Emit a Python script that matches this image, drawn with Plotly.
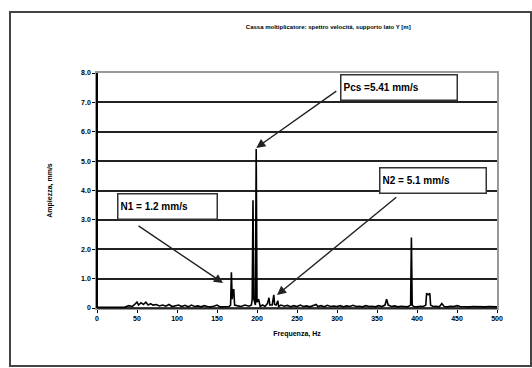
import plotly.graph_objects as go

# ---- data ----
freq_hz = [0, 20, 35, 40, 44, 47, 50, 52, 55, 58, 61, 64, 67, 70,
           74, 78, 82, 86, 90, 94, 98, 102, 106, 110, 114, 118, 122, 126, 130,
           134, 138, 142, 146, 150, 154, 158, 162, 165,
           167, 168, 169, 170, 171, 172, 175, 180, 185, 190, 193,
           194, 195, 196, 197, 198, 199, 200, 202, 204,
           207, 210, 213, 215, 216, 219, 221, 222, 224, 226, 227,
           230, 234, 238, 242, 246, 250, 254, 258, 262, 266, 270, 274, 276,
           280, 284, 288, 292, 296, 300, 304, 308, 312, 316, 320, 324, 328,
           332, 336, 340, 344, 348, 352, 356, 360, 362, 364, 368, 372, 376,
           380, 384, 388, 391, 392, 393, 394, 396, 400, 404, 408, 411, 412,
           414, 416, 417, 420, 424, 428, 431, 434, 438, 442, 446, 450, 454,
           458, 462, 466, 470, 475, 480, 485, 490, 495, 500]
amp_mms = [0.02, 0.02, 0.03, 0.08, 0.05, 0.12, 0.2, 0.1, 0.18, 0.12, 0.2, 0.1, 0.15, 0.1,
           0.12, 0.07, 0.1, 0.06, 0.12, 0.05, 0.08, 0.1, 0.05, 0.09, 0.04, 0.1, 0.05, 0.07, 0.04,
           0.08, 0.05, 0.04, 0.06, 0.1, 0.04, 0.05, 0.06, 0.05,
           0.1, 1.22, 0.3, 0.62, 0.62, 0.1, 0.08, 0.05, 0.1, 0.06, 0.1,
           0.3, 3.67, 0.3, 0.2, 0.1, 5.41, 0.2, 0.3, 0.05,
           0.1, 0.05, 0.15, 0.35, 0.1, 0.1, 0.45, 0.12, 0.1, 0.25, 0.05,
           0.1, 0.06, 0.09, 0.04, 0.08, 0.05, 0.1, 0.05, 0.07, 0.04, 0.08, 0.12, 0.05,
           0.08, 0.04, 0.09, 0.05, 0.07, 0.05, 0.08, 0.04, 0.07, 0.05, 0.09, 0.05, 0.06,
           0.04, 0.08, 0.05, 0.06, 0.04, 0.08, 0.05, 0.1, 0.3, 0.1, 0.05, 0.07, 0.04,
           0.06, 0.05, 0.04, 0.08, 0.1, 2.4, 0.1, 0.05, 0.04, 0.06, 0.05, 0.1, 0.5,
           0.45, 0.5, 0.1, 0.05, 0.06, 0.04, 0.15, 0.05, 0.04, 0.06, 0.05, 0.08, 0.05,
           0.04, 0.05, 0.04, 0.05, 0.04, 0.05, 0.04, 0.05, 0.04, 0.04]

x_ticks = [0, 50, 100, 150, 200, 250, 300, 350, 400, 450, 500]
y_ticks = [0, 1, 2, 3, 4, 5, 6, 7, 8]
y_tick_text = ["0", "1.0", "2.0", "3.0", "4.0", "5.0", "6.0", "7.0", "8.0"]

labels = ["N1 = 1.2 mm/s", "Pcs =5.41 mm/s", "N2 = 5.1 mm/s"]
label_box_xy = [(25, 3.91), (303.75, 7.97), (352.5, 4.8)]
label_box_wh = [106, 123, 113]
arrow_tail = [(50, 2.83), (301, 7.42), (376, 3.81)]
arrow_tip = [(157.5, 0.85), (199, 5.45), (225, 0.44)]

title_text = "Cassa moltiplicatore: spettro velocità, supporto lato Y [m]"
x_title = "Frequenza, Hz"
y_title = "Ampiezza, mm/s"

FONT = "Liberation Sans, Arial, sans-serif"

fig = go.Figure()
fig.add_trace(go.Scatter(x=freq_hz, y=amp_mms, mode="lines",
                         line=dict(color="black", width=1.6), hoverinfo="skip",
                         showlegend=False))

annotations = []
for txt, (bx, by), w in zip(labels, label_box_xy, label_box_wh):
    annotations.append(dict(x=bx, y=by, xref="x", yref="y", xanchor="left", yanchor="top",
                            text="<b>" + txt + "</b>", showarrow=False, width=w - 12,
                            height=20, align="left", bgcolor="white",
                            bordercolor="#333", borderwidth=1.5, borderpad=2,
                            font=dict(family=FONT, size=10, color="black")))
for (tx, ty), (hx, hy) in zip(arrow_tail, arrow_tip):
    annotations.append(dict(x=hx, y=hy, ax=tx, ay=ty, xref="x", yref="y", axref="x", ayref="y",
                            text="", showarrow=True, arrowhead=2, arrowsize=1.3,
                            arrowwidth=1.4, arrowcolor="#222"))

fig.update_layout(
    width=532, height=368,
    margin=dict(l=97, r=35, t=73, b=60),
    paper_bgcolor="white", plot_bgcolor="white",
    title=dict(text="<b>" + title_text + "</b>", x=0.617, xanchor="center",
               y=1 - 27 / 368, yanchor="middle", xref="container", yref="container",
               font=dict(family=FONT, size=6, color="black")),
    xaxis=dict(range=[0, 500], tickvals=x_ticks, ticktext=["<b>%d</b>" % v for v in x_ticks],
               showgrid=False, zeroline=False, showline=True, linecolor="#999",
               linewidth=1.5, mirror=True, ticks="outside", ticklen=3, tickcolor="black",
               tickfont=dict(family=FONT, size=7, color="black"),
               title=dict(text="<b>" + x_title + "</b>", standoff=10,
                          font=dict(family=FONT, size=7, color="black"))),
    yaxis=dict(range=[0, 8], tickvals=y_ticks, ticktext=["<b>%s</b>" % t for t in y_tick_text],
               showgrid=True, gridcolor="#222", gridwidth=1.6, zeroline=False,
               showline=True, linecolor="#999", linewidth=1.5, mirror=True,
               ticks="outside", ticklen=3, tickcolor="black",
               tickfont=dict(family=FONT, size=7, color="black"),
               title=dict(text="<b>" + y_title + "</b>", standoff=28,
                          font=dict(family=FONT, size=7, color="black"))),
    annotations=annotations,
    shapes=[
        dict(type="rect", xref="paper", yref="paper", x0=-0.2175, x1=1.085,
             y0=-0.247, y1=1.26, line=dict(color="#444", width=2)),
        dict(type="line", xref="paper", yref="paper", x0=0, x1=0, y0=0, y1=1,
             line=dict(color="black", width=2)),
        dict(type="line", xref="paper", yref="paper", x0=0, x1=1, y0=0, y1=0,
             line=dict(color="black", width=1.5)),
    ],
)

fig.write_html("out.html", config={"displayModeBar": False},
               post_script="document.body.style.margin='0';")
